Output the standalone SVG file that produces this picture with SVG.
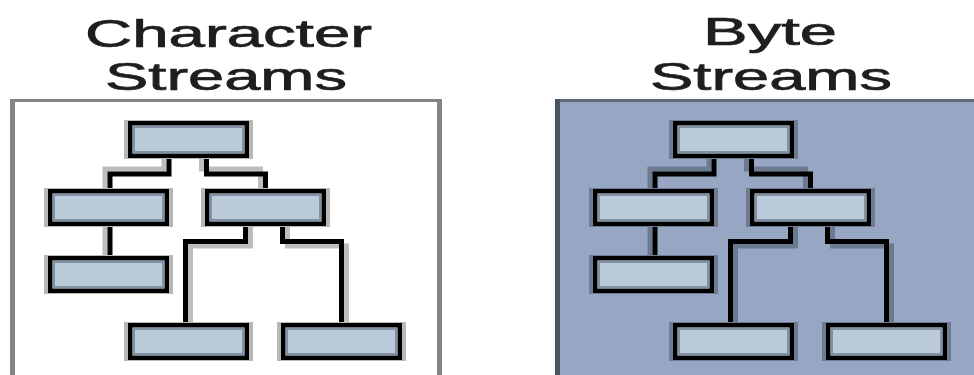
<svg xmlns="http://www.w3.org/2000/svg" width="974" height="375" viewBox="0 0 974 375">
<style>
  .title { font-family: "Liberation Sans", Arial, sans-serif; font-size: 38px; fill: #1e1e1e; stroke: #1e1e1e; stroke-width: 0.7; }
  .frameL { fill: none; stroke: #848484; }
  .halo { fill: #b8b8b8; }
  .haloD { fill: #6e7c92; }
  .box { fill: #bccbdb; stroke: #000; stroke-width: 4.5; }
  .bevel { fill: none; stroke: #8392a3; stroke-width: 2.5; }
  .wire { fill: none; stroke: #000; stroke-width: 5; stroke-linejoin: miter; stroke-linecap: butt; }
  .shadow { fill: none; stroke: #bdbdbd; stroke-width: 5; }
  .shadowD { fill: none; stroke: #6c7a90; stroke-width: 5; }
</style>
<defs>
  <g id="node">
    <rect class="box" x="2.25" y="2.25" width="116.5" height="32.5"/>
    <rect class="bevel" x="5.75" y="5.75" width="109.5" height="25.5"/>
  </g>
</defs>
<rect x="0" y="0" width="974" height="375" fill="#ffffff"/>

<!-- Left panel frame -->
<g id="frame-character">
  <line class="frameL" x1="10" y1="100.5" x2="442" y2="100.5" stroke-width="3"/>
  <line class="frameL" x1="12.5" y1="99" x2="12.5" y2="375" stroke-width="5"/>
  <line class="frameL" x1="439.5" y1="99" x2="439.5" y2="375" stroke-width="5"/>
</g>

<!-- Right panel frame -->
<g id="frame-byte">
  <rect x="555" y="99" width="419" height="276" fill="#97a7c3"/>
  <rect x="555" y="99" width="419" height="3" fill="#646a74"/>
  <rect x="555" y="99" width="5" height="276" fill="#4b5461"/>
</g>

<!-- Titles -->
<g id="title-character">
  <text class="title" x="85" y="46.5" textLength="287" lengthAdjust="spacingAndGlyphs">Character</text>
  <text class="title" x="105" y="90" textLength="242" lengthAdjust="spacingAndGlyphs">Streams</text>
</g>
<g id="title-byte">
  <text class="title" x="703" y="45" textLength="134" lengthAdjust="spacingAndGlyphs">Byte</text>
  <text class="title" x="650" y="89.5" textLength="242" lengthAdjust="spacingAndGlyphs">Streams</text>
</g>

<!-- Connectors -->
<g id="connectors">
  <path class="shadow" d="M164,158 V169 H105 V189"/>
  <path class="shadow" d="M201.5,158 V169 H260.5 V189"/>
  <path class="shadow" d="M105,226 V256"/>
  <path class="shadow" d="M250.5,226 V246 H190.5 V323"/>
  <path class="shadow" d="M287.5,226 V246 H346.5 V323"/>
  <path class="wire" d="M169,158 V174 H110 V189"/>
  <path class="wire" d="M206.5,158 V174 H265.5 V189"/>
  <path class="wire" d="M110,226 V256"/>
  <path class="wire" d="M245.5,226 V241.5 H185.5 V323"/>
  <path class="wire" d="M282.5,226 V241.5 H341.5 V323"/>
  <path class="shadowD" d="M709,158 V169 H650 V189"/>
  <path class="shadowD" d="M746.5,158 V169 H805.5 V189"/>
  <path class="shadowD" d="M650,226 V256"/>
  <path class="shadowD" d="M795.5,226 V246 H735.5 V323"/>
  <path class="shadowD" d="M832.5,226 V246 H891.5 V323"/>
  <path class="wire" d="M714,158 V174 H655 V189"/>
  <path class="wire" d="M751.5,158 V174 H810.5 V189"/>
  <path class="wire" d="M655,226 V256"/>
  <path class="wire" d="M790.5,226 V241.5 H730.5 V323"/>
  <path class="wire" d="M827.5,226 V241.5 H886.5 V323"/>
</g>

<!-- Left panel nodes -->
<g id="char-root"><rect class="halo" x="124" y="120" width="129" height="39"/><use href="#node" x="128" y="121"/></g>
<g id="char-left"><rect class="halo" x="44" y="188" width="129" height="39"/><use href="#node" x="48" y="189"/></g>
<g id="char-left-child"><rect class="halo" x="44" y="255" width="129" height="39"/><use href="#node" x="48" y="256"/></g>
<g id="char-right"><rect class="halo" x="201" y="188" width="129" height="39"/><use href="#node" x="205" y="189"/></g>
<g id="char-bottom-left"><rect class="halo" x="124" y="322" width="129" height="39"/><use href="#node" x="128" y="323"/></g>
<g id="char-bottom-right"><rect class="halo" x="277" y="322" width="129" height="39"/><use href="#node" x="281" y="323"/></g>

<!-- Right panel nodes -->
<g id="byte-root"><rect class="haloD" x="669" y="120" width="129" height="39"/><use href="#node" x="673" y="121"/></g>
<g id="byte-left"><rect class="haloD" x="589" y="188" width="129" height="39"/><use href="#node" x="593" y="189"/></g>
<g id="byte-left-child"><rect class="haloD" x="589" y="255" width="129" height="39"/><use href="#node" x="593" y="256"/></g>
<g id="byte-right"><rect class="haloD" x="746" y="188" width="129" height="39"/><use href="#node" x="750" y="189"/></g>
<g id="byte-bottom-left"><rect class="haloD" x="669" y="322" width="129" height="39"/><use href="#node" x="673" y="323"/></g>
<g id="byte-bottom-right"><rect class="haloD" x="822" y="322" width="129" height="39"/><use href="#node" x="826" y="323"/></g>
</svg>
